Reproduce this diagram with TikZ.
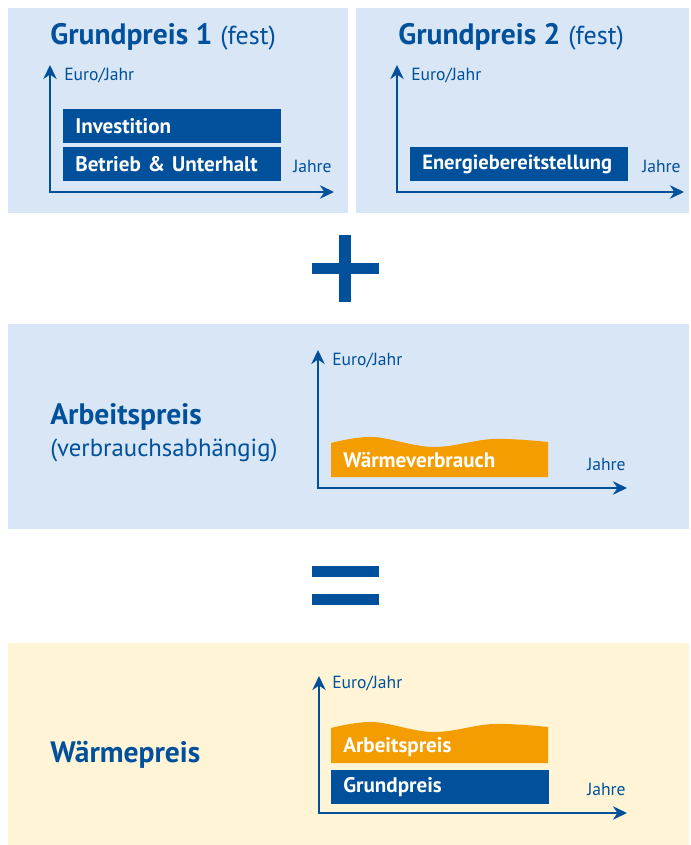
\documentclass[tikz,border=0pt]{standalone}
\usepackage{fontspec}
\setmainfont{PT Sans}
\usetikzlibrary{arrows.meta, positioning}
\definecolor{gpblue}{RGB}{0, 80, 155}
\definecolor{bgblue}{RGB}{217, 230, 245}
\definecolor{bgcream}{RGB}{255, 244, 214}
\definecolor{waerme}{RGB}{243, 157, 0}

\begin{document}
\begin{tikzpicture}[x=0.025cm, y=-0.025cm,
    panel/.style={fill=bgblue, draw=none},
    axis/.style={draw=gpblue, line width=1.5pt, line join=miter,
                 {Stealth[length=10pt, width=9.5pt]}-{Stealth[length=10pt, width=9.5pt]}},
    bar/.style={fill=gpblue, text=white, anchor=north west, minimum width=5.45cm,
                minimum height=0.85cm, inner ysep=0pt, inner xsep=0.3cm,
                text width=4.85cm, align=left,
                font=\fontsize{15}{17}\selectfont\bfseries},
    wavetext/.style={text=white, anchor=base west, inner sep=0pt,
                     font=\fontsize{15}{17}\selectfont\bfseries},
    title/.style={text=gpblue, anchor=base west, inner sep=0pt,
                  font=\fontsize{21}{25}\selectfont},
    lbl/.style={text=gpblue, anchor=base west, inner sep=0pt,
                font=\fontsize{12.5}{14}\selectfont}]

    \useasboundingbox (0,0) rectangle (690,845);

    % Panels
    \fill[panel] (8,8) rectangle (348,213);
    \fill[panel] (356,8) rectangle (689,213);
    \fill[panel] (8,324) rectangle (689,529);
    \fill[bgcream] (8,643) rectangle (689,845);

    % Grundpreis 1
    \node[title] (gp1) at (50,45) {\textbf{Grundpreis 1} {\fontsize{18.5}{20}\selectfont(fest)}};
    \coordinate (o1) at (50,192);
    \coordinate (y1) at (50,65);
    \coordinate (x1) at (334,192);
    \draw[axis] (y1) -- (o1) -- (x1);
    \node[lbl] (e1) at (64,81) {Euro/Jahr};
    \node[lbl] (j1) at (293,173) {Jahre};
    \node[bar] (inv) at (63,109) {Investition};
    \node[bar] (betr) at (63,147) {Betrieb \& Unterhalt};

    % Grundpreis 2
    \node[title] (gp2) at (398,45) {\textbf{Grundpreis 2} {\fontsize{18.5}{20}\selectfont(fest)}};
    \coordinate (o2) at (397,192);
    \coordinate (y2) at (397,65);
    \coordinate (x2) at (684,192);
    \draw[axis] (y2) -- (o2) -- (x2);
    \node[lbl] (e2) at (411,81) {Euro/Jahr};
    \node[lbl] (j2) at (642,173) {Jahre};
    \node[bar, font=\fontsize{14.6}{17}\selectfont\bfseries] (energie) at (410,147) {Energiebereitstellung};

    % Plus
    \fill[gpblue] (312,263) rectangle (379,274);
    \fill[gpblue] (339,235) rectangle (351,302);

    % Arbeitspreis
    \node[title] (ap) at (50,424) {\textbf{Arbeitspreis}};
    \node[title, font=\fontsize{17.6}{20}\selectfont] (apsub) at (50,456)
        {(verbrauchsabhängig)};
    \coordinate (o3) at (318,488);
    \coordinate (y3) at (318,350);
    \coordinate (x3) at (627,488);
    \draw[axis] (y3) -- (o3) -- (x3);
    \node[lbl] (e3) at (332,365) {Euro/Jahr};
    \node[lbl] (j3) at (587,470) {Jahre};
    \fill[waerme] (331,477) -- plot[smooth, tension=0.6]
        coordinates {(331,443) (373,437) (433,447) (493,439) (548,442)}
        -- (548,477) -- cycle;
    \node[wavetext] (wv) at (343,467) {Wärmeverbrauch};

    % Equals
    \fill[gpblue] (312,566) rectangle (379,577);
    \fill[gpblue] (312,594) rectangle (379,605);

    % Waermepreis
    \node[title] (wp) at (50,762) {\textbf{Wärmepreis}};
    \coordinate (o4) at (319,813);
    \coordinate (y4) at (319,676);
    \coordinate (x4) at (627,813);
    \draw[axis] (y4) -- (o4) -- (x4);
    \node[lbl] (e4) at (332,688) {Euro/Jahr};
    \node[lbl] (j4) at (587,795) {Jahre};
    \fill[waerme] (331,763) -- plot[smooth, tension=0.6]
        coordinates {(331,728) (373,722) (433,732) (493,724) (548,727)}
        -- (548,763) -- cycle;
    \node[wavetext] (apw) at (343,752) {Arbeitspreis};
    \node[bar] (gpw) at (331,770) {Grundpreis};
\end{tikzpicture}
\end{document}
